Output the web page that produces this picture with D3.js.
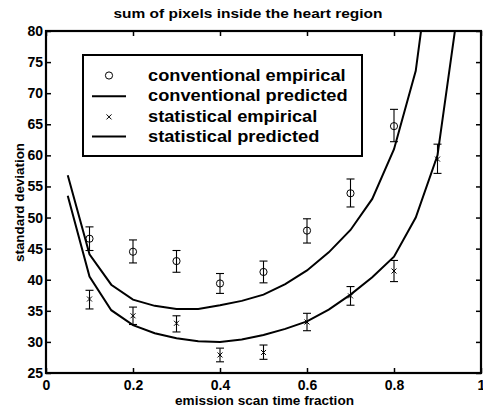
<!DOCTYPE html>
<html><head><meta charset="utf-8">
<script src="https://cdn.jsdelivr.net/npm/d3@7"></script>
<style>body{margin:0;background:#fff}svg{display:block}text{font-family:"Liberation Sans",Arial,sans-serif;font-weight:bold;fill:#000}</style>
</head><body>
<svg id="c" width="483" height="409"></svg>
<script>
const empX = [0.1,0.2,0.3,0.4,0.5,0.6,0.7,0.8,0.9];
const convEmp = [46.6,44.5,43.0,39.4,41.25,47.9,53.9,64.7];
const convLo  = [44.7,42.7,41.2,37.8,39.5,45.9,51.7,62.2];
const convHi  = [48.5,46.4,44.7,41.0,43.0,49.8,56.2,67.4];
const statEmp = [36.9,34.2,33.0,27.9,28.3,33.2,37.4,41.4,59.4];
const statLo  = [35.3,32.8,31.6,26.8,27.2,31.8,35.9,39.7,57.1];
const statHi  = [38.3,35.6,34.2,29.0,29.5,34.6,38.9,43.1,61.8];
const predX = [0.05,0.1,0.15,0.2,0.25,0.3,0.35,0.4,0.45,0.5,0.55,0.6,0.65,0.7,0.75,0.8,0.85,0.9,0.95];
const convPred = [56.8,44.1,39.2,36.8,35.8,35.3,35.3,35.9,36.6,37.6,39.3,41.5,44.4,48.0,53.0,61.0,73.6,100,150];
const statPred = [53.5,40.5,35.1,32.7,31.4,30.6,30.1,30.0,30.4,31.1,32.1,33.3,35.2,37.6,40.4,43.7,50.0,60.0,85.0];
const xTicks = [0,0.2,0.4,0.6,0.8,1];
const xTickLabels = ["0","0.2","0.4","0.6","0.8","1"];
const yTicks = [25,30,35,40,45,50,55,60,65,70,75,80];
const legendLabels = ["conventional empirical","conventional predicted","statistical empirical","statistical predicted"];

const svg = d3.select("#c");
const L=46,R=481,T=31,B=373;
const x = d3.scaleLinear().domain([0,1]).range([L,R]);
const y = d3.scaleLinear().domain([25,80]).range([B,T]);

svg.append("defs").append("clipPath").attr("id","clip").append("rect")
  .attr("x",L).attr("y",T).attr("width",R-L).attr("height",B-T);

const tl=5;
svg.append("g").attr("transform",`translate(0,${B})`)
  .call(d3.axisBottom(x).tickValues(xTicks).tickFormat((d,i)=>xTickLabels[i]).tickSizeInner(-tl).tickSizeOuter(0).tickPadding(7))
  .call(g=>{g.select(".domain").remove();g.selectAll("text").attr("font-size","14px").attr("dy","0.71em");g.selectAll("line").attr("stroke-width",1.5);});
svg.append("g").attr("transform",`translate(0,${T})`)
  .call(d3.axisTop(x).tickValues(xTicks).tickFormat("").tickSizeInner(-tl).tickSizeOuter(0))
  .call(g=>{g.select(".domain").remove();g.selectAll("line").attr("stroke-width",1.5);});
svg.append("g").attr("transform",`translate(${L},0)`)
  .call(d3.axisLeft(y).tickValues(yTicks).tickSizeInner(-tl).tickSizeOuter(0).tickPadding(3))
  .call(g=>{g.select(".domain").remove();g.selectAll("text").attr("font-size","14px");g.selectAll("line").attr("stroke-width",1.5);});
svg.append("g").attr("transform",`translate(${R},0)`)
  .call(d3.axisRight(y).tickValues(yTicks).tickFormat("").tickSizeInner(-tl).tickSizeOuter(0))
  .call(g=>{g.select(".domain").remove();g.selectAll("line").attr("stroke-width",1.5);});

svg.append("rect").attr("x",L).attr("y",T).attr("width",R-L).attr("height",B-T)
  .attr("fill","none").attr("stroke","#000").attr("stroke-width",2.2);

const plot = svg.append("g").attr("clip-path","url(#clip)");
const line = d3.line().x((d,i)=>x(predX[i])).y(d=>y(d));
plot.append("path").datum(convPred).attr("d",line).attr("fill","none").attr("stroke","#000").attr("stroke-width",2);
plot.append("path").datum(statPred).attr("d",line).attr("fill","none").attr("stroke","#000").attr("stroke-width",2);

function errbars(vals,lo,hi){
  const g = plot.append("g").attr("stroke","#000").attr("stroke-width",1.1);
  vals.forEach((v,i)=>{
    const cx=x(empX[i]);
    g.append("line").attr("x1",cx).attr("x2",cx).attr("y1",y(lo[i])).attr("y2",y(hi[i]));
    g.append("line").attr("x1",cx-4).attr("x2",cx+4).attr("y1",y(lo[i])).attr("y2",y(lo[i]));
    g.append("line").attr("x1",cx-4).attr("x2",cx+4).attr("y1",y(hi[i])).attr("y2",y(hi[i]));
  });
}
errbars(convEmp,convLo,convHi);
errbars(statEmp,statLo,statHi);
plot.append("g").selectAll("circle").data(convEmp).join("circle")
  .attr("cx",(d,i)=>x(empX[i])).attr("cy",d=>y(d)).attr("r",3.6)
  .attr("fill","none").attr("stroke","#000").attr("stroke-width",1);
function xmark(g,cx,cy,s){
  g.append("path").attr("d",`M${cx-s},${cy-s}L${cx+s},${cy+s}M${cx-s},${cy+s}L${cx+s},${cy-s}`)
   .attr("stroke","#000").attr("stroke-width",1).attr("fill","none");
}
const xg = plot.append("g");
statEmp.forEach((d,i)=>xmark(xg,x(empX[i]),y(d),2.5));

// legend
const lg = svg.append("g");
lg.append("rect").attr("x",83).attr("y",55).attr("width",279).attr("height",101)
  .attr("fill","#fff").attr("stroke","#000").attr("stroke-width",2);
const baseY=[81,101.3,121.6,142];
legendLabels.forEach((t,i)=>{
  const tx = lg.append("text").attr("x",148).attr("y",baseY[i]).attr("font-size","16px").text(t);
  const n = tx.node().getComputedTextLength();
  tx.attr("textLength", n*1.14).attr("lengthAdjust","spacingAndGlyphs");
});
lg.append("circle").attr("cx",109).attr("cy",baseY[0]-5.5).attr("r",3.6).attr("fill","none").attr("stroke","#000");
lg.append("line").attr("x1",92).attr("x2",126).attr("y1",baseY[1]-5).attr("y2",baseY[1]-5).attr("stroke","#000").attr("stroke-width",2);
xmark(lg,109,baseY[2]-4.7,2.5);
lg.append("line").attr("x1",92).attr("x2",126).attr("y1",baseY[3]-5.5).attr("y2",baseY[3]-5.5).attr("stroke","#000").attr("stroke-width",2);

svg.append("text").attr("x",248).attr("y",18).attr("text-anchor","middle").attr("font-size","13px")
  .attr("textLength",269).attr("lengthAdjust","spacingAndGlyphs").text("sum of pixels inside the heart region");
svg.append("text").attr("x",264.5).attr("y",405).attr("text-anchor","middle").attr("font-size","13px")
  .attr("textLength",179).attr("lengthAdjust","spacingAndGlyphs").text("emission scan time fraction");
svg.append("text").attr("transform",`translate(23.5,202.5) rotate(-90)`).attr("text-anchor","middle").attr("font-size","13px")
  .attr("textLength",119).attr("lengthAdjust","spacingAndGlyphs").text("standard deviation");
</script>
</body></html>
